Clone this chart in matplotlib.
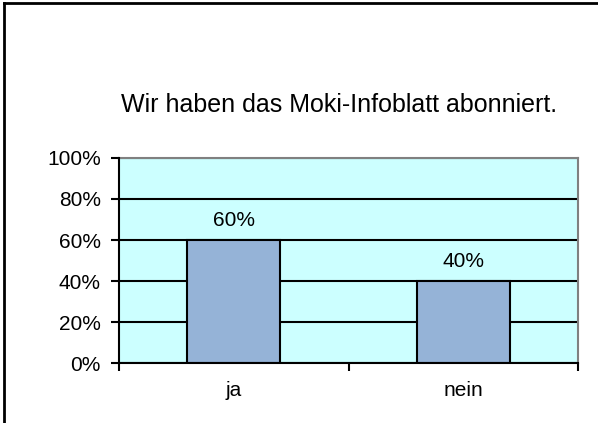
import matplotlib.pyplot as plt
from matplotlib.lines import Line2D

# data
kategorien = ['ja', 'nein']
anteile = [60, 40]
titel = 'Wir haben das Moki-Infoblatt abonniert.'

plt.rcParams['font.family'] = ['Liberation Sans', 'DejaVu Sans']

fig = plt.figure(figsize=(5.98, 4.23), dpi=100)
ax = fig.add_axes([0.199, 0.1418, 0.7676, 0.4847])
ax.set_facecolor('#CCFFFF')

x = range(len(kategorien))
bars = ax.bar(x, anteile, width=0.405, color='#95B3D7', edgecolor='black',
              linewidth=1.5, zorder=3)
for b, v in zip(bars, anteile):
	ax.text(b.get_x() + b.get_width() / 2, v + 5, str(v) + '%',
	        ha='center', va='bottom', fontsize=15)

ax.set_xlim(-0.5, len(kategorien) - 0.5)
ax.set_ylim(0, 100)
ax.set_yticks(range(0, 101, 20))
ax.set_yticklabels([str(t) + '%' for t in range(0, 101, 20)], fontsize=15)
ax.yaxis.grid(True, color='black', linewidth=1.5, zorder=1)
ax.set_axisbelow(True)

# category labels between boundary ticks
ax.set_xticks([-0.5, 0.5, 1.5])
ax.set_xticklabels([])
ax.set_xticks(list(x), minor=True)
ax.set_xticklabels(kategorien, minor=True, fontsize=15)
ax.tick_params(axis='x', which='minor', length=0, pad=13)
ax.tick_params(axis='x', which='major', length=6, width=1.5, direction='out')
ax.tick_params(axis='y', length=6, width=1.5, direction='out', pad=7)

for s in ['left', 'bottom']:
	ax.spines[s].set_linewidth(1.5)
	ax.spines[s].set_zorder(4)
for s in ['top', 'right']:
	ax.spines[s].set_color('#808080')
	ax.spines[s].set_linewidth(1.5)

fig.text(0.567, 0.752, titel, ha='center', va='center', fontsize=18)

# outer frame (only left and top visible)
fig.add_artist(Line2D([0.0067, 0.0067], [0, 0.993], color='black', linewidth=2))
fig.add_artist(Line2D([0.0067, 1], [0.993, 0.993], color='black', linewidth=2))

fig.savefig('out.png', dpi=100)
